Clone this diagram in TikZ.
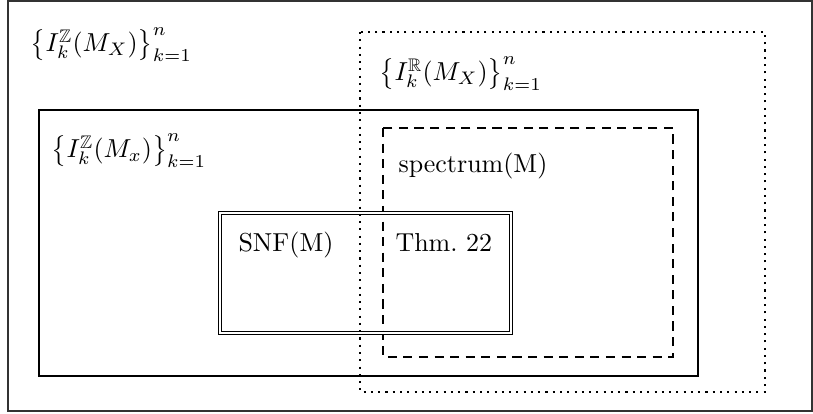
\documentclass[tikz,border=0pt]{standalone}
\usepackage{amsmath,amssymb}
\begin{document}
\begin{tikzpicture}[x=0.385pt,y=-0.385pt,
  outerbox/.style={draw=black!80,line width=0.4pt},
  zbox/.style={draw,line width=0.9pt},
  rbox/.style={draw,line width=0.8pt,dotted},
  specbox/.style={draw,line width=0.8pt,dash pattern=on 3.5pt off 2.5pt},
  snfbox/.style={draw,double,double distance=1.1pt,line width=0.35pt},
  lbl/.style={inner sep=0pt,anchor=west},
  blbl/.style={inner sep=0pt,anchor=base west}]
\useasboundingbox (0,0) rectangle (813,414);
\draw[outerbox] (8,1) rectangle (812,411);
\draw[rbox] (360,32) rectangle (765,392);
\draw[zbox] (39,110) rectangle (698,376);
\draw[specbox] (383,128) rectangle (673,357);
\draw[snfbox] (220,213) rectangle (511,333);
\node[lbl] (lz) at (30,45) {$\left\{I_k^{\mathbb{Z}}(M_X)\right\}_{k=1}^n$};
\node[lbl] (lr) at (379,74) {$\left\{I_k^{\mathbb{R}}(M_X)\right\}_{k=1}^n$};
\node[lbl] (lx) at (51,151) {$\left\{I_k^{\mathbb{Z}}(M_x)\right\}_{k=1}^n$};
\node[blbl] (sp) at (398,173) {spectrum(M)};
\node[blbl] (snf) at (238,252) {SNF(M)};
\node[blbl] (thm) at (395,252) {Thm.\ 22};
\end{tikzpicture}
\end{document}
